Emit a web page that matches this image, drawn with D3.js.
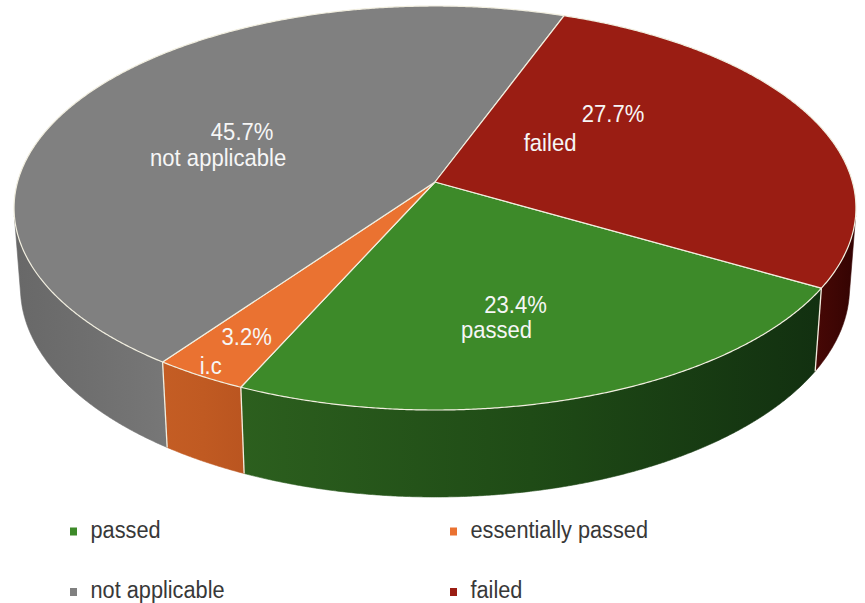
<!DOCTYPE html>
<html><head><meta charset="utf-8">
<script src="https://cdn.jsdelivr.net/npm/d3@7"></script>
<style>body{margin:0;background:#fff}</style>
</head><body>
<svg id="chart" width="865" height="603"></svg>
<script>
// ---- data ----
const categories = ["passed", "essentially passed", "not applicable", "failed"];
const values = [23.4, 3.2, 45.7, 27.7];
const pctLabels = ["23.4%", "3.2%", "45.7%", "27.7%"];
const sliceNames = ["passed", "i.c", "not applicable", "failed"];

// ---- style ----
const topColors = ["#3d8a29", "#ea7231", "#808080", "#9a1d13"];
const sideStops = [
  ["#2c5f1e", "#1f4b16", "#123010"],
  ["#c45d24", "#c05a22", "#ba5520"],
  ["#686868", "#6f6f6f", "#777777"],
  ["#470805", "#3e0604", "#330302"]
];
const edgeColor = "#f1eedf";
const labelRadius = [0.6, 0.9, 0.6, 0.6];
// per-line offsets (px) from the projected label anchor: [pct dx, pct dy, name dx, name dy]
const labelOffsets = [
  [-2.5, 8.7, -21.5, 33.7],
  [20.5, -9.2, -15.5, 19.8],
  [20.5, 12, -3.5, 38],
  [-51.5, -20.5, -114.5, 8.5]
];

const svg = d3.select("#chart");
const font = "'Liberation Sans', Arial, Helvetica, sans-serif";

// ---- 3D perspective projection of a unit disk ----
const cam = {cx: 435, cy: 182, f: 2852, dist: 6.832, tilt: Math.asin(0.4759), thick: 0.2195};
const sinT = Math.sin(cam.tilt), cosT = Math.cos(cam.tilt);
const rScale = d3.scaleLinear().domain([0, 1]).range([0, 1]);
function project(a, r, z) {
  const rr = rScale(r);
  const x = rr * Math.sin(a), y = rr * Math.cos(a);
  const d = y * cosT + cam.dist - z * sinT;
  const v = y * sinT + z * cosT;
  return [cam.cx + cam.f * x / d, cam.cy - cam.f * v / d];
}

const startAngle = 120 * Math.PI / 180;
const pie = d3.pie().sort(null).value(d => d.value)
  .startAngle(startAngle).endAngle(startAngle + 2 * Math.PI);
const data = categories.map((c, i) => ({cat: c, value: values[i], i}));
const arcs = pie(data);

const line = d3.line();
function arcPoints(a0, a1, z) {
  const n = Math.max(2, Math.ceil(Math.abs(a1 - a0) / 0.005));
  return d3.range(n + 1).map(k => project(a0 + (a1 - a0) * k / n, 1, z));
}

// visible outer wall: cos(a) < -1/(dist*cos(tilt))
const vHalf = Math.acos(-1 / (cam.dist * cosT));
const vis = [[vHalf, 2 * Math.PI - vHalf], [vHalf + 2 * Math.PI, 4 * Math.PI - vHalf]];

const defs = svg.append("defs");
const walls = svg.append("g");
const tops = svg.append("g");
const edges = svg.append("g");

arcs.forEach((d, idx) => {
  vis.forEach(([v0, v1], k) => {
    const b0 = Math.max(d.startAngle, v0), b1 = Math.min(d.endAngle, v1);
    if (b1 <= b0) return;
    const topPts = arcPoints(b0, b1, 0);
    const botPts = arcPoints(b1, b0, -cam.thick);
    const all = topPts.concat(botPts);
    const xs = all.map(p => p[0]);
    const gid = "g" + idx + "_" + k;
    const g = defs.append("linearGradient").attr("id", gid)
      .attr("gradientUnits", "userSpaceOnUse")
      .attr("x1", d3.min(xs)).attr("x2", d3.max(xs)).attr("y1", 0).attr("y2", 0);
    sideStops[idx].forEach((c, j, arr) => g.append("stop")
      .attr("offset", j / (arr.length - 1)).attr("stop-color", c));
    walls.append("path").attr("d", line(all) + "Z")
      .attr("fill", `url(#${gid})`).attr("stroke", `url(#${gid})`).attr("stroke-width", 0.6);
  });
});

// vertical boundary lines on visible wall
arcs.forEach(d => {
  const a = d.startAngle;
  const inVis = vis.some(([v0, v1]) => a > v0 && a < v1);
  if (!inVis) return;
  edges.append("path").attr("d", line([project(a, 1, 0), project(a, 1, -cam.thick)]))
    .attr("stroke", edgeColor).attr("stroke-width", 1.3).attr("fill", "none");
});

// top faces
arcs.forEach((d, idx) => {
  const pts = [project(0, 0, 0)].concat(arcPoints(d.startAngle, d.endAngle, 0));
  tops.append("path").attr("d", line(pts) + "Z")
    .attr("fill", topColors[idx]).attr("stroke", edgeColor)
    .attr("stroke-width", 1.2).attr("stroke-linejoin", "round");
});

// labels
const labels = svg.append("g").attr("font-family", font).attr("font-size", 24)
  .attr("fill", "#f6f6f6").attr("text-anchor", "middle");
arcs.forEach((d, idx) => {
  const mid = (d.startAngle + d.endAngle) / 2;
  const [ax, ay] = project(mid, labelRadius[idx], 0);
  const o = labelOffsets[idx];
  labels.append("text").attr("transform", `translate(${ax + o[0]},${ay + o[1]}) scale(0.92,1)`)
    .text(pctLabels[idx]);
  labels.append("text").attr("transform", `translate(${ax + o[2]},${ay + o[3]}) scale(0.92,1)`)
    .text(sliceNames[idx]);
});

// legend
const legendCols = [70, 450], legendRows = [537.5, 598];
const legend = svg.append("g").attr("font-family", font).attr("font-size", 23).attr("fill", "#383838");
categories.forEach((c, i) => {
  const x = legendCols[i % 2], y = legendRows[Math.floor(i / 2)];
  legend.append("rect").attr("x", x).attr("y", y - 10).attr("width", 7).attr("height", 8)
    .attr("fill", topColors[i]);
  legend.append("text").attr("transform", `translate(${x + 20.5},${y}) scale(0.945,1)`).text(c);
});
</script>
</body></html>
